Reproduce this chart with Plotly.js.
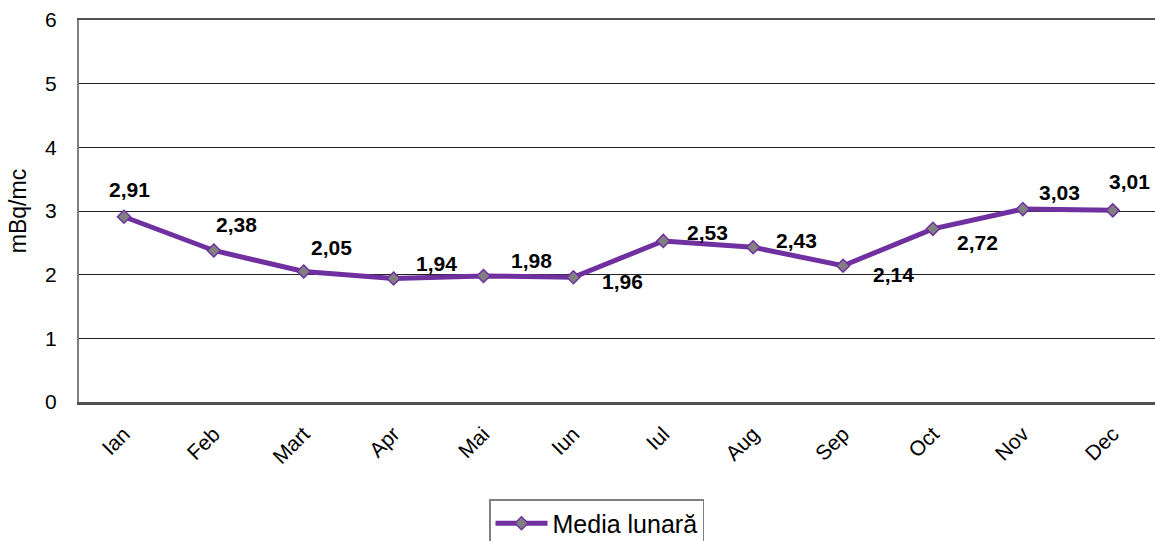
<!DOCTYPE html>
<html><head><meta charset="utf-8">
<script src="https://cdn.plot.ly/plotly-3.0.1.min.js"></script>
<style>html,body{margin:0;padding:0;background:#fff}#c{width:1155px;height:541px}</style>
</head><body><div id="c"></div>
<script>
const months = ["Ian","Feb","Mart","Apr","Mai","Iun","Iul","Aug","Sep","Oct","Nov","Dec"];
const values = [2.91,2.38,2.05,1.94,1.98,1.96,2.53,2.43,2.14,2.72,3.03,3.01];
const yTicks = [0,1,2,3,4,5,6];
const seriesName = "Media lunară";
// label offsets (px) relative to each point
const labelDx = [6,23,28,43,48,49,44,43,50,45,37,17];
const labelDy = [27,26,24,15,15,-4,8,7,-9,-14,17,29];

const fontFam = "Liberation Sans, Arial, sans-serif";
const annotations = months.map((m,i)=>({
  x:m, y:values[i], xref:'x', yref:'y',
  text:'<b>'+values[i].toFixed(2).replace('.',',')+'</b>',
  showarrow:false, xshift:labelDx[i], yshift:labelDy[i],
  font:{family:fontFam,size:21,color:'#000'}
}));

const trace = {
  x: months, y: values, name: seriesName, type:'scatter', mode:'lines+markers',
  line:{color:'#7030A0', width:5},
  marker:{symbol:'diamond', size:10, color:'#808080', line:{color:'#7030A0', width:1.5}}
};

const layout = {
  width:1155, height:541,
  margin:{l:79, r:0, t:20, b:139},
  paper_bgcolor:'#fff', plot_bgcolor:'#fff',
  font:{family:fontFam, size:20, color:'#000'},
  showlegend:true,
  legend:{xref:'container', yref:'container', x:489/1155, xanchor:'left', y:(541-499)/541, yanchor:'top',
    orientation:'h', bordercolor:'#808080', borderwidth:1.5,
    font:{family:fontFam,size:25,color:'#000'}, itemwidth:52},
  xaxis:{type:'category', range:[-0.5,11.47], tickangle:-45, showgrid:false,
    showline:true, linecolor:'#505050', linewidth:2.5, mirror:true, zeroline:false,
    tickfont:{family:fontFam,size:21}, ticks:'', ticklabelstandoff:9, fixedrange:true},
  yaxis:{range:[0,6], tickvals:yTicks, showgrid:true, gridcolor:'#222', gridwidth:1,
    showline:true, linecolor:'#808080', linewidth:2, mirror:false, zeroline:false,
    ticks:'', ticklabelstandoff:16, tickfont:{family:fontFam,size:21},
    title:{text:'mBq/mc', font:{family:fontFam,size:23}, standoff:12}},
  annotations: annotations
};
Plotly.newPlot('c',[trace],layout,{displayModeBar:false, staticPlot:true});
</script></body></html>
